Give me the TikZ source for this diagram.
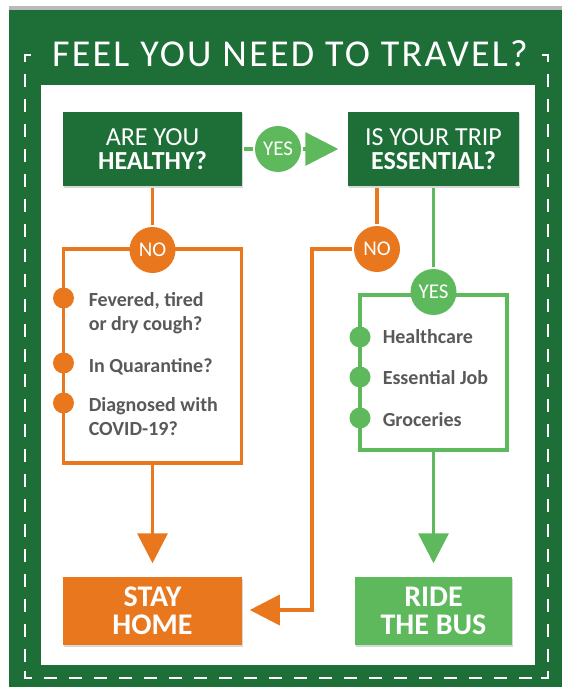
\documentclass[tikz,border=0pt]{standalone}
\usepackage{fontspec}
\setmainfont{Carlito}
\usetikzlibrary{arrows.meta, positioning, shadows}

\definecolor{darkgreen}{HTML}{1E6E37}
\definecolor{lightgreen}{HTML}{5DB95B}
\definecolor{tangerine}{HTML}{E8771E}
\definecolor{textgray}{HTML}{58595B}

\tikzset{
  question/.style={fill=darkgreen, text=white, minimum width=#1, minimum height=74pt, inner sep=0pt, align=center,
    font=\fontsize{26}{24}\selectfont, drop shadow={shadow xshift=1pt, shadow yshift=-1.5pt, opacity=0.3}},
  outcome/.style={fill=#1, text=white, minimum height=68pt, inner sep=0pt, align=center,
    font=\bfseries\fontsize{30}{28}\selectfont, drop shadow={shadow xshift=1pt, shadow yshift=-1.5pt, opacity=0.3}},
  answer/.style={circle, fill=#1, text=white, minimum size=46pt, inner sep=0pt, font=\fontsize{21}{21}\selectfont},
  listbox/.style={draw=#1, inner sep=0pt},
  bulletdot/.style={circle, fill=#1, minimum size=21pt, inner sep=0pt},
  listitem/.style={anchor=west, inner sep=0pt, text=textgray, align=left, font=\bfseries\fontsize{20}{24}\selectfont},
  tip/.style={-{Triangle[length=#1, width=#1]}},
}

\begin{document}
\begin{tikzpicture}[x=1pt, y=-1pt, line width=3.5pt]
                \useasboundingbox (0,0) rectangle (562,687);
                \fill[gray!55] (9,6.5) rectangle (562,10);
                \fill[darkgreen] (9,10) rectangle (562,687);
                \fill[white] (41,85) rectangle (535,665);

                \begin{scope}[white, line width=2.5pt]
                    \draw (31,55) -- (25,55) -- (25,62);
                    \draw (542,55) -- (548,55) -- (548,62);
                    \draw (25,671) -- (25,678) -- (32,678);
                    \draw (541,678) -- (548,678) -- (548,671);
                    \draw[dash pattern=on 13pt off 12pt] (25,74) -- (25,665);
                    \draw[dash pattern=on 13pt off 12pt] (548,74) -- (548,665);
                    \draw[dash pattern=on 13pt off 12pt] (44,678) -- (535,678);
                \end{scope}

                \node[text=white, inner sep=0pt, font=\fontsize{38}{38}\selectfont\addfontfeatures{LetterSpace=6}] (title) at (290,54) {FEEL YOU NEED TO TRAVEL?};

                \node[question=179pt] (healthy) at (152.5,149) {ARE YOU\\\textbf{HEALTHY?}};
                \node[question=171pt] (essential) at (433.5,149) {IS YOUR TRIP\\\textbf{ESSENTIAL?}};

                \node[listbox=tangerine, minimum width=178pt, minimum height=214pt] (nolist) at (152.5,356) {};
                \node[listbox=lightgreen, minimum width=147pt, minimum height=155pt] (yeslist) at (433.5,372.5) {};

                \node[answer=lightgreen] (yes1) at (278,149) {YES};
                \node[answer=tangerine] (no1) at (152.5,250) {NO};
                \node[answer=tangerine] (no2) at (377,249) {NO};
                \node[answer=lightgreen] (yes2) at (433.5,292) {YES};

                \node[outcome=tangerine, minimum width=179pt] (stay) at (152.5,611) {STAY\\HOME};
                \node[outcome=lightgreen, minimum width=157pt] (ride) at (433.5,611) {RIDE\\THE BUS};

                \node[bulletdot=tangerine] (fever) at (63.5,298) {};
                \node[bulletdot=tangerine] (quarantine) at (63.5,363) {};
                \node[bulletdot=tangerine] (covid) at (63.5,403) {};
                \node[listitem] (fevertext) at (87,313.5) {Fevered, tired\\or dry cough?};
                \node[listitem] (quarantinetext) at (87,366.5) {In Quarantine?};
                \node[listitem] (covidtext) at (87,417) {Diagnosed with\\COVID-19?};

                \node[bulletdot=lightgreen] (health) at (360,337) {};
                \node[bulletdot=lightgreen] (job) at (360,377) {};
                \node[bulletdot=lightgreen] (groceries) at (360,418) {};
                \node[listitem] (healthtext) at (381,336.5) {Healthcare};
                \node[listitem] (jobtext) at (381,378) {Essential Job};
                \node[listitem] (grocerytext) at (381,419.5) {Groceries};

                \coordinate (turn) at (312,610);

                \draw[lightgreen]
                    (healthy) edge (yes1)
                    (yes1) edge[tip=33pt, shorten >=8pt] (essential)
                    (essential.south -| yes2) edge (yes2)
                    (yeslist) edge[tip=30pt, shorten >=12pt] (ride);
                \draw[tangerine]
                    (healthy) edge (no1)
                    (essential.south -| no2) edge (no2)
                    (nolist) edge[tip=30pt, shorten >=12pt] (stay);
                \draw[tangerine, tip=30pt, shorten >=6pt] (no2) -| (turn) -- (stay.east |- turn);

             \end{tikzpicture}
\end{document}
